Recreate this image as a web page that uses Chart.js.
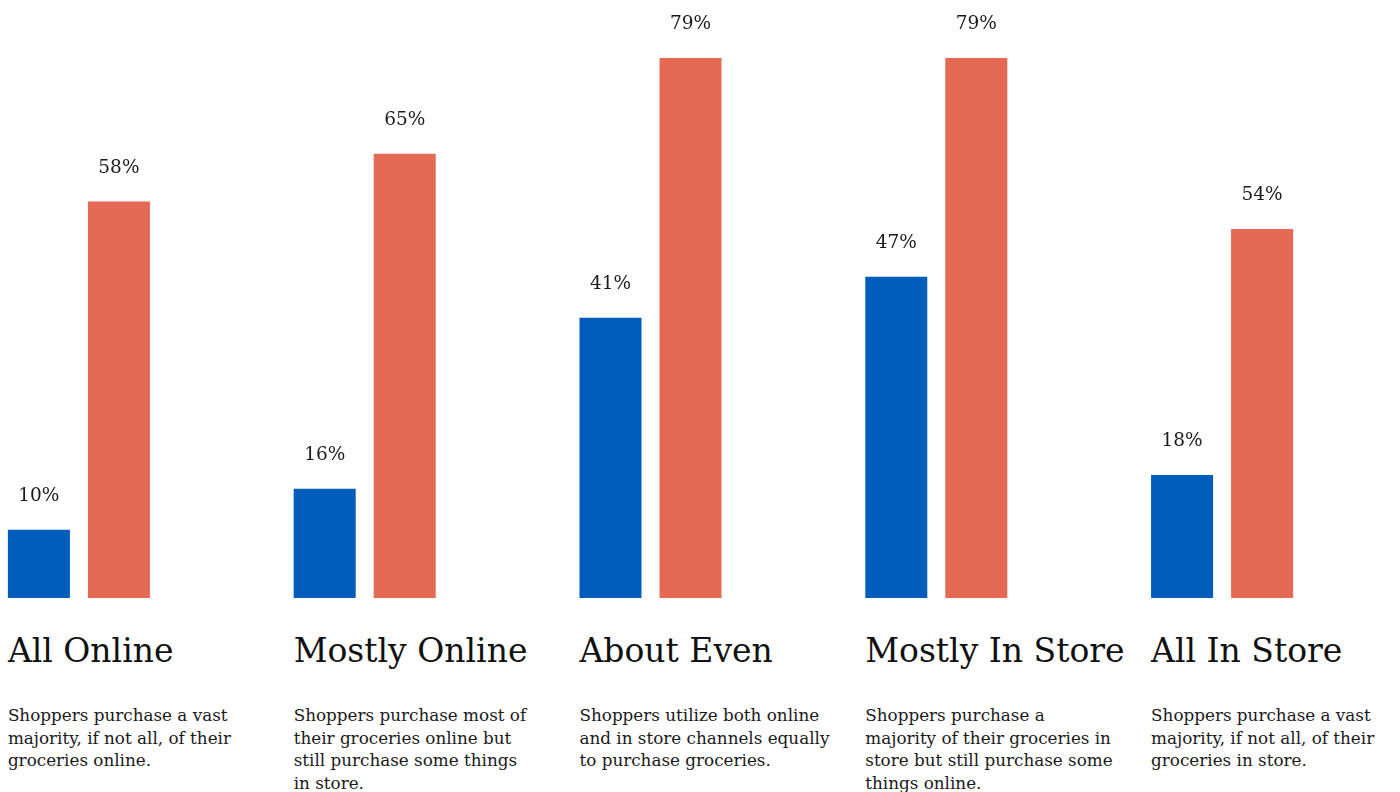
<!DOCTYPE html>
<html>
<head>
<meta charset="utf-8">
<script src="https://cdn.jsdelivr.net/npm/chart.js@4.4.1/dist/chart.umd.min.js"></script>
<style>
	html, body {
		margin: 0;
		padding: 0;
		width: 1400px;
		height: 792px;
		overflow: hidden;
		background: #fff;
		font-family: "DejaVu Serif", Georgia, serif;
		color: #1a1a1a;
	}
	#chartWrap {
		position: absolute;
		left: -64px;
		top: 0;
		width: 1429px;
		height: 598px;
	}
	.cat-title {
		position: absolute;
		top: 634px;
		font-size: 33px;
		line-height: 34px;
		white-space: nowrap;
		color: #111;
	}
	.cat-desc {
		position: absolute;
		top: 704px;
		font-size: 16.8px;
		line-height: 22.5px;
		white-space: nowrap;
		color: #1a1a1a;
	}
</style>
</head>
<body>
<div id="chartWrap"><canvas id="shopperChart"></canvas></div>
<div id="labels"></div>

<script>
	// Chart data
	const categories = ['All Online', 'Mostly Online', 'About Even', 'Mostly In Store', 'All In Store'];
	const descriptions = [
		['Shoppers purchase a vast', 'majority, if not all, of their', 'groceries online.'],
		['Shoppers purchase most of', 'their groceries online but', 'still purchase some things', 'in store.'],
		['Shoppers utilize both online', 'and in store channels equally', 'to purchase groceries.'],
		['Shoppers purchase a', 'majority of their groceries in', 'store but still purchase some', 'things online.'],
		['Shoppers purchase a vast', 'majority, if not all, of their', 'groceries in store.']
	];
	const seriesBlue = [10, 16, 41, 47, 18];
	const seriesOrange = [58, 65, 79, 79, 54];

	// Draw "NN%" above every bar
	const valueLabels = {
		id: 'valueLabels',
		afterDatasetsDraw: function(chart) {
			const ctx = chart.ctx;
			ctx.save();
			ctx.font = '18.5px "DejaVu Serif", Georgia, serif';
			ctx.fillStyle = '#1a1a1a';
			ctx.textAlign = 'center';
			ctx.textBaseline = 'alphabetic';
			chart.data.datasets.forEach(function(ds, di) {
				chart.getDatasetMeta(di).data.forEach(function(bar, i) {
					ctx.fillText(ds.data[i] + '%', bar.x, bar.y - 29);
				});
			});
			ctx.restore();
		}
	};

	const chart = new Chart(document.getElementById('shopperChart'), {
		type: 'bar',
		data: {
			labels: categories,
			datasets: [{
				data: seriesBlue,
				backgroundColor: '#005DB9',
				categoryPercentage: 0.56,
				barPercentage: 0.775
			}, {
				data: seriesOrange,
				backgroundColor: '#E46A55',
				categoryPercentage: 0.56,
				barPercentage: 0.775
			}]
		},
		options: {
			responsive: true,
			maintainAspectRatio: false,
			animation: false,
			layout: { padding: 0 },
			plugins: {
				legend: { display: false },
				tooltip: { enabled: false }
			},
			scales: {
				x: { display: false },
				y: { display: false, min: 0, max: 87.5 }
			}
		},
		plugins: [valueLabels]
	});

	// Category titles and descriptions, left-aligned with each blue bar
	const wrapLeft = -64;
	const labelsEl = document.getElementById('labels');
	chart.getDatasetMeta(0).data.forEach(function(bar, i) {
		const left = wrapLeft + bar.x - bar.width / 2;
		const title = document.createElement('div');
		title.className = 'cat-title';
		title.style.left = left + 'px';
		title.textContent = categories[i];
		labelsEl.appendChild(title);

		const desc = document.createElement('div');
		desc.className = 'cat-desc';
		desc.style.left = left + 'px';
		desc.innerHTML = descriptions[i].join('<br>');
		labelsEl.appendChild(desc);
	});
</script>
</body>
</html>
